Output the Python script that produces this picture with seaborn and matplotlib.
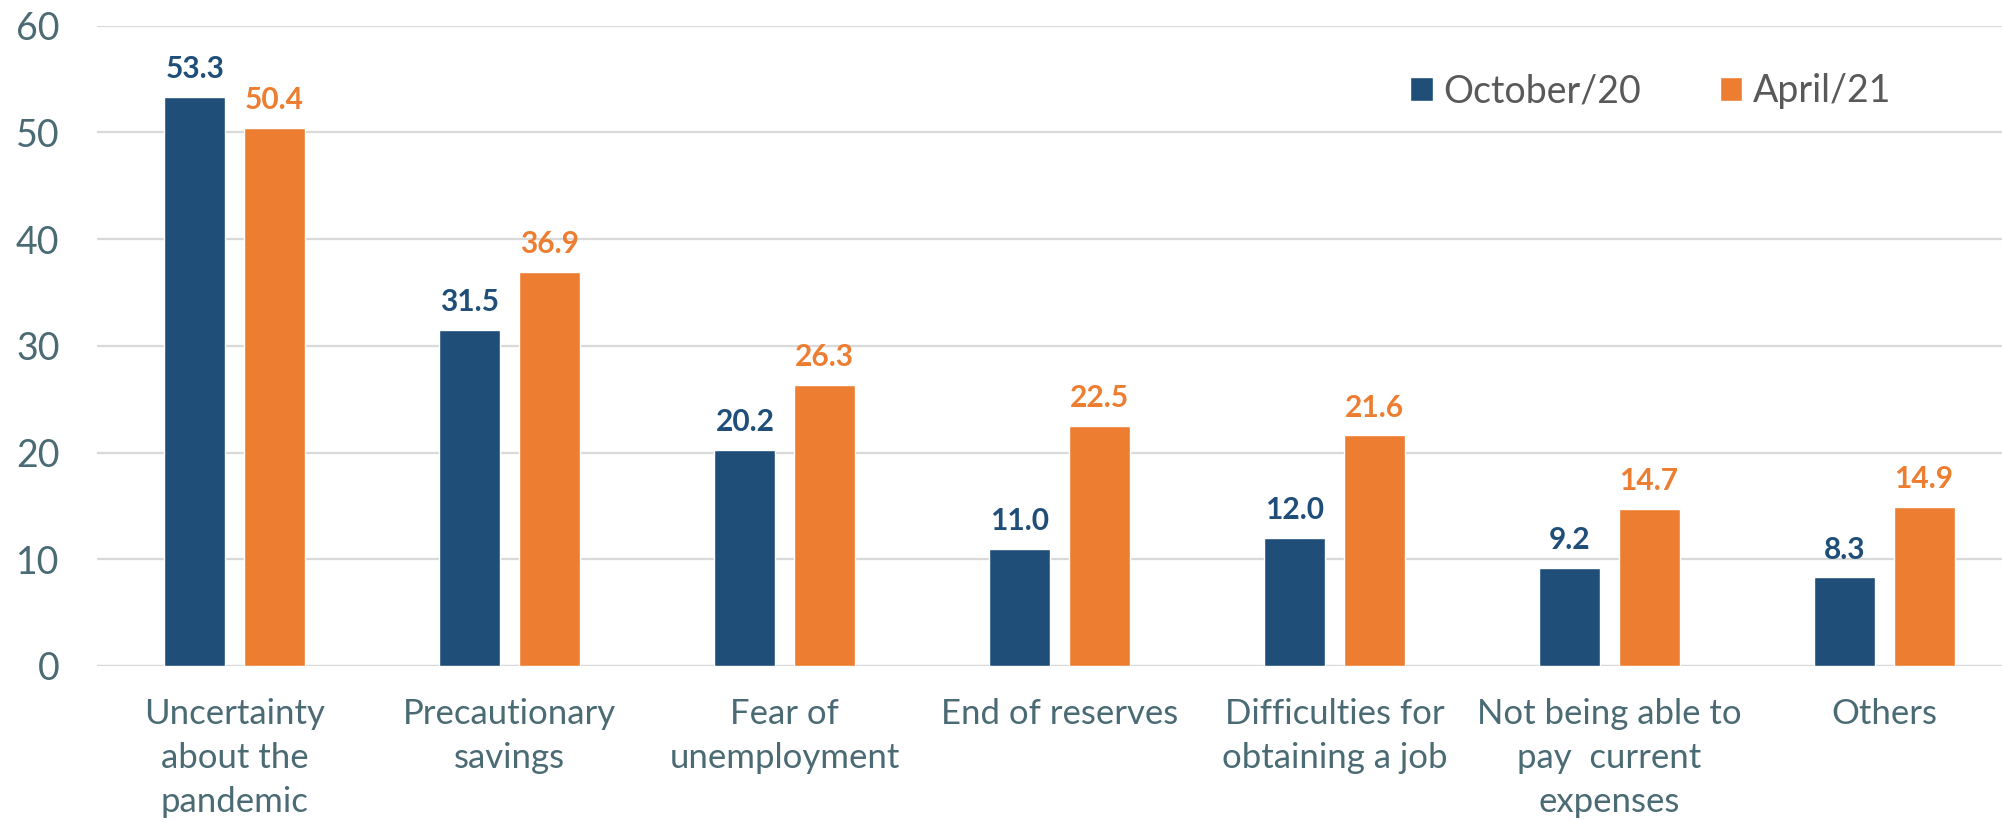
import matplotlib
matplotlib.use("Agg")
import matplotlib.pyplot as plt
import seaborn as sns
import pandas as pd

# Reasons for saving, share of respondents (%)
categories = [
    "Uncertainty\nabout the\npandemic",
    "Precautionary\nsavings",
    "Fear of\nunemployment",
    "End of reserves",
    "Difficulties for\nobtaining a job",
    "Not being able to\npay  current\nexpenses",
    "Others",
]
series_names = ["October/20", "April/21"]
october_20 = [53.3, 31.5, 20.2, 11.0, 12.0, 9.2, 8.3]
april_21 = [50.4, 36.9, 26.3, 22.5, 21.6, 14.7, 14.9]
y_ticks = [0, 10, 20, 30, 40, 50, 60]

colors = {"October/20": "#1F4E79", "April/21": "#ED7D31"}
tick_color = "#4A6A74"
grid_color = "#D9D9D9"

df = pd.DataFrame({
    "reason": categories * 2,
    "period": [series_names[0]] * len(categories) + [series_names[1]] * len(categories),
    "value": october_20 + april_21,
})

sns.set_theme(style="white")
plt.rcParams["font.family"] = ["Lato", "DejaVu Sans"]

fig = plt.figure(figsize=(20.02, 8.23), dpi=100)
ax = fig.add_axes([97 / 2002, 157 / 823, 1925 / 2002, 640.5 / 823])

sns.barplot(
    data=df, x="reason", y="value", hue="period",
    hue_order=series_names, order=categories,
    palette=colors, width=0.575, gap=0.228,
    saturation=1, ax=ax, legend=True,
)

ax.set_ylim(0, 60)
ax.set_yticks(y_ticks)
ax.set_xlabel("")
ax.set_ylabel("")

for s in ax.spines.values():
    s.set_visible(False)
ax.yaxis.grid(True, color=grid_color, linewidth=1.6)
ax.xaxis.grid(False)
ax.set_axisbelow(True)
ax.axhline(0, color=grid_color, linewidth=1.6, zorder=0.5)

ax.tick_params(axis="y", length=0, pad=27, labelsize=27, labelcolor=tick_color)
ax.tick_params(axis="x", length=0, pad=23, labelsize=25, labelcolor=tick_color)
for lbl in ax.get_xticklabels():
    lbl.set_linespacing(1.47)

for cont, name in zip(ax.containers, series_names):
    ax.bar_label(cont, fmt="%.1f", padding=10, fontsize=21.5,
                 fontweight="bold", color=colors[name])

handles, labels = ax.get_legend_handles_labels()
ax.legend(
    handles, labels, ncol=2, frameon=False,
    loc="center left", bbox_to_anchor=(1410 / 2002, 1 - 91 / 823),
    bbox_transform=fig.transFigure, borderaxespad=0, borderpad=0,
    fontsize=27, handlelength=0.6, handleheight=0.6,
    handletextpad=0.28, columnspacing=2.1, labelcolor="#595959",
)

fig.savefig("out.png", dpi=100)
